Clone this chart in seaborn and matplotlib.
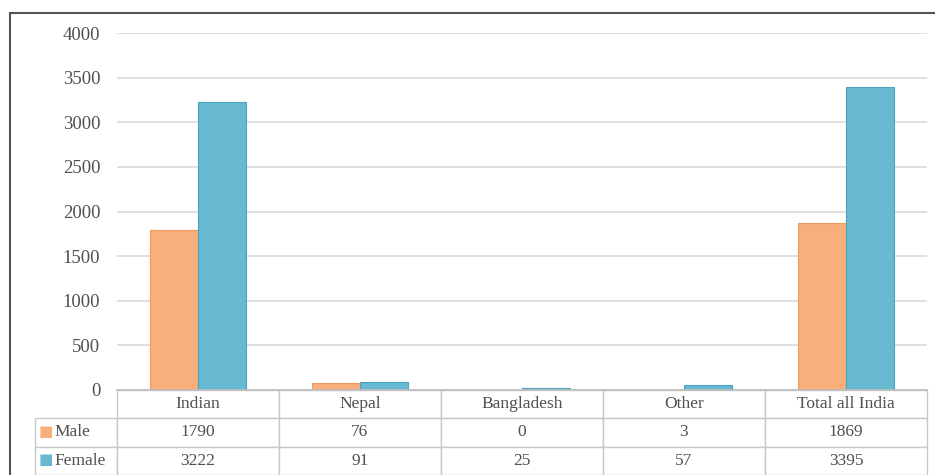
import numpy as np
import pandas as pd
import matplotlib
matplotlib.use("Agg")
import matplotlib.pyplot as plt
from matplotlib.patches import Rectangle
import seaborn as sns

# data
categories = ["Indian", "Nepal", "Bangladesh", "Other", "Total all India"]
male = [1790, 76, 0, 3, 1869]
female = [3222, 91, 25, 57, 3395]
series = ["Male", "Female"]
colors = ["#F8AF7B", "#66B9D1"]
edges = ["#F09A5E", "#4AA3BF"]

df = pd.DataFrame({"category": categories * 2,
                   "sex": ["Male"] * 5 + ["Female"] * 5,
                   "count": male + female})

sns.set_style("white")
plt.rcParams["font.family"] = ["Liberation Serif", "DejaVu Serif"]
plt.rcParams["font.size"] = 12.5

fig = plt.figure(figsize=(9.35, 4.75), dpi=100)
# axes: x 117..927 px, y 33..390 px
ax = fig.add_axes([117 / 935, 1 - 390 / 475, 810 / 935, 357 / 475])

sns.barplot(data=df, x="category", y="count", hue="sex", order=categories,
            hue_order=series, palette=colors, width=0.59, ax=ax,
            legend=False, saturation=1)
for bars, ec in zip(ax.containers, edges):
    for b in bars:
        b.set_edgecolor(ec)
        b.set_linewidth(0.8)

ax.set_ylim(0, 4000)
ax.set_xlim(-0.5, 4.5)
ax.set_yticks(np.arange(0, 4001, 500))
ax.yaxis.grid(True, color="#D9D9D9", linewidth=1.2)
ax.set_axisbelow(True)
ax.tick_params(axis="y", length=0, pad=12, labelsize=13.5, labelcolor="#505050")
ax.set_xticks([])
ax.set_xlabel("")
ax.set_ylabel("")
for s in ["top", "right", "left"]:
    ax.spines[s].set_visible(False)
ax.spines["bottom"].set_color("#BFBFBF")
ax.spines["bottom"].set_linewidth(1.2)

# data table below the axis
lab_w = 82 / 810
col_w = 1.0 / 5
cell_text = [[""] + categories,
             ["Male"] + [str(v) for v in male],
             ["Female"] + [str(v) for v in female]]
tab_h = 85 / 357
tbl = ax.table(cellText=cell_text, colWidths=[lab_w] + [col_w] * 5,
               cellLoc="center", bbox=[-lab_w, -tab_h, 1 + lab_w, tab_h])
tbl.auto_set_font_size(False)
tbl.set_fontsize(12.5)
for (r, c), cell in tbl.get_celld().items():
    cell.set_edgecolor("#C8C8C8")
    cell.set_linewidth(1.0)
    cell.get_text().set_color("#505050")
    if r == 0 and c == 0:
        cell.visible_edges = ""
    if c == 0 and r > 0:
        cell.get_text().set_ha("left")
        cell.PAD = 0.24

# legend keys in the row labels
row_y = [-(418 + 447) / 2 + 390, -(447 + 475) / 2 + 390]
for name, col, yy in zip(series, colors, row_y):
    ax.text(-lab_w + 0.004, (yy + 1) / 357, "■", color=col, fontsize=11,
            family="DejaVu Sans", va="center", ha="left",
            transform=ax.transAxes)

# outer chart border
fig.patches.append(Rectangle((10 / 935, -0.05), 930 / 935, 1 - 13 / 475 + 0.05,
                             transform=fig.transFigure, fill=False,
                             edgecolor="#555555", linewidth=1.5))

fig.savefig("out.png", dpi=100)
